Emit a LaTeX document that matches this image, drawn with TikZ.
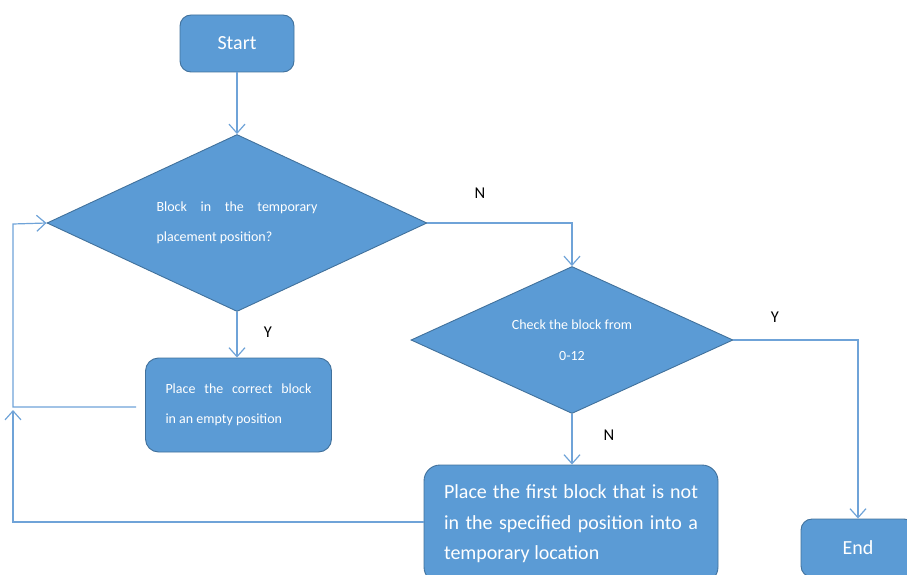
\documentclass[tikz,border=0pt]{standalone}
\usepackage{fontspec}
\setmainfont{Carlito}
\usetikzlibrary{shapes.geometric,arrows.meta}
\definecolor{boxfill}{HTML}{5B9BD5}
\definecolor{boxdraw}{HTML}{41719C}
\definecolor{linec}{HTML}{6FA3D8}
\begin{document}
\begin{tikzpicture}[x=1pt,y=-1pt,
  blockbox/.style={rectangle, rounded corners=11pt, fill=boxfill, draw=boxdraw, line width=0.9pt, text=white, inner sep=0pt},
  decis/.style={diamond, fill=boxfill, draw=boxdraw, line width=0.9pt, text=white, inner sep=0pt},
  flow/.style={draw=linec, line width=1.2pt, -{Straight Barb[length=9pt,width=16pt]}},
  lbl/.style={font=\fontsize{16.5}{19}\selectfont, text=black}]
\useasboundingbox (0,0) rectangle (907,575);
\clip (0,0) rectangle (907,575);

\node[blockbox, minimum width=114pt, minimum height=57pt, font=\fontsize{20}{24}\selectfont] (start) at (237,43.5) {Start};

\node[decis, aspect=2.15, minimum width=380pt, minimum height=177pt, align=left, font=\fontsize{14}{30}\selectfont] (d1) at (237,223)
  {\makebox[161pt][s]{Block in the temporary}\\placement position?};

\node[decis, aspect=2.19, minimum width=322pt, minimum height=147pt, align=center, font=\fontsize{14}{31}\selectfont] (d2) at (572,340)
  {Check the block from\\0-12};

\node[blockbox, rounded corners=13pt, minimum width=186pt, minimum height=94pt, align=left, font=\fontsize{14}{30}\selectfont] (b2) at (238.5,405)
  {\makebox[146pt][s]{Place the correct block}\\in an empty position};

\node[blockbox, rounded corners=16pt, minimum width=294pt, minimum height=118pt, align=left, font=\fontsize{20}{30.5}\selectfont] (b3) at (571,524)
  {\makebox[254pt][s]{Place the first block that is not}\\\makebox[254pt][s]{in the specified position into a}\\temporary location};

\node[blockbox, minimum width=114pt, minimum height=58pt, font=\fontsize{20}{24}\selectfont] (end) at (858,548) {End};

\coordinate (lx1) at (13,407);
\coordinate (lx2) at (13,410);
\coordinate (lx3) at (13,224);
\coordinate (b2out) at (136,407);
\coordinate (b3bend) at (13,522);

\draw[flow] (start.south) -- (d1.north);
\draw[flow] (d1.east) -| (d2.north);
\draw[flow] (d1.south) -- (d1.south |- b2.north);
\draw[flow] (d2.south) -- (d2.south |- b3.north);
\draw[flow] (d2.east) -| (end.north);
\draw[flow] (b3.west |- b3bend) -- (b3bend) -- (lx2);
\draw[flow] (b2out) -- (lx1) -- (lx3) -- (d1.west);

\node[lbl] (ln1) at (480,193) {N};
\node[lbl] (ly1) at (268,332) {Y};
\node[lbl] (ly2) at (775,317) {Y};
\node[lbl] (ln2) at (609,435) {N};
\end{tikzpicture}
\end{document}
